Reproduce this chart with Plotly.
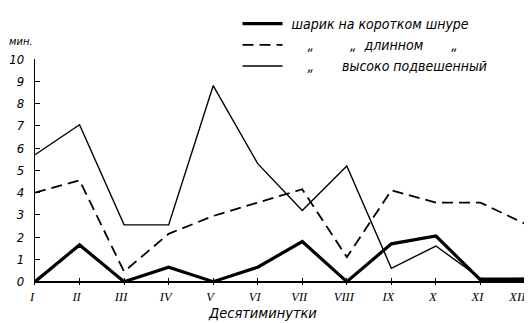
import plotly.graph_objects as go

periods = [1, 2, 3, 4, 5, 6, 7, 8, 9, 10, 11, 12]
period_labels = ["I", "II", "III", "IV", "V", "VI", "VII", "VIII", "IX", "X", "XI", "XII"]
short_cord = [0, 1.65, 0, 0.65, 0, 0.65, 1.8, 0, 1.7, 2.05, 0.08, 0.1]
long_cord = [4.0, 4.55, 0.45, 2.15, 2.95, 3.55, 4.15, 1.1, 4.1, 3.55, 3.55, 2.6]
high_hung = [5.7, 7.05, 2.55, 2.55, 8.8, 5.3, 3.2, 5.2, 0.6, 1.6, 0.15, 0.15]
y_ticks = [0, 1, 2, 3, 4, 5, 6, 7, 8, 9, 10]

nb = "\u00a0"
names = [
    nb + "шарик на коротком шнуре",
    nb * 5 + "„" + nb * 9 + "„" + nb * 2 + "длинном" + nb * 7 + "„",
    nb * 5 + "„" + nb * 7 + "высоко подвешенный",
]
# pad the last label so it stays inside the window
tick_text = period_labels[:-1] + [period_labels[-1] + nb * 3]

font_it = "Liberation Sans Narrow, DejaVu Sans Condensed, Liberation Sans, sans-serif"

fig = go.Figure()
fig.add_trace(go.Scatter(x=periods, y=short_cord, mode="lines", name=names[0],
                         line=dict(color="black", width=3.2)))
fig.add_trace(go.Scatter(x=periods, y=long_cord, mode="lines", name=names[1],
                         line=dict(color="black", width=1.8, dash="11px,6px")))
fig.add_trace(go.Scatter(x=periods, y=high_hung, mode="lines", name=names[2],
                         line=dict(color="black", width=1.4)))

fig.update_layout(
    width=524, height=315,
    margin=dict(l=27, r=7, t=51, b=38, autoexpand=False),
    paper_bgcolor="white", plot_bgcolor="white",
    showlegend=True,
    legend=dict(xref="container", yref="container", x=0.438, y=1.016,
                xanchor="left", yanchor="top", bgcolor="rgba(0,0,0,0)",
                font=dict(family=font_it, size=14, color="black", style="italic"),
                tracegroupgap=0, itemwidth=40),
    xaxis=dict(range=[1, 12], tickmode="array", tickvals=periods, ticktext=tick_text,
               showgrid=False, showline=False, zeroline=False,
               ticks="inside", ticklen=7, tickwidth=1.2, tickcolor="black",
               ticklabeloverflow="allow", ticklabelstandoff=2, ticklabelshift=-3,
               tickfont=dict(family="Liberation Serif, serif", size=12.5, color="black", style="italic")),
    yaxis=dict(range=[-0.15, 10], tickmode="array", tickvals=y_ticks,
               ticktext=[str(v) for v in y_ticks],
               showgrid=False, showline=True, linecolor="black", linewidth=1.3,
               zeroline=True, zerolinecolor="black", zerolinewidth=1.5,
               ticks="inside", ticklen=5, tickwidth=1.2, tickcolor="black",
               ticklabelstandoff=7,
               tickfont=dict(family=font_it, size=13, color="black", style="italic")),
)

fig.add_annotation(text="мин.", xref="paper", yref="paper", x=0, y=1.0, xanchor="right",
                   yanchor="bottom", yshift=9, xshift=0, showarrow=False,
                   font=dict(family=font_it, size=11, color="black", style="italic"))
fig.add_annotation(text="Десятиминутки", xref="paper", yref="paper", x=0.465, y=0,
                   xanchor="center", yanchor="middle", yshift=-28, showarrow=False,
                   font=dict(family=font_it, size=14.5, color="black", style="italic"))

fig.write_html("out.html")
